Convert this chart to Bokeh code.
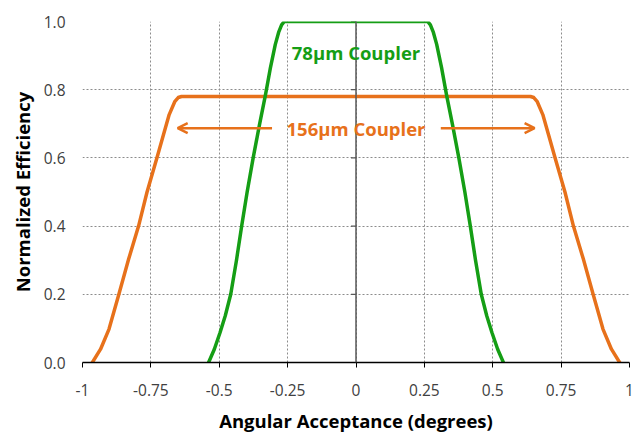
import numpy as np
from bokeh.plotting import figure
from bokeh.models import (Range1d, FixedTicker, Span, Arrow, OpenHead, Label)
from bokeh.embed import file_html
from bokeh.resources import INLINE

# ---- data ----
x_ticks = [-1, -0.75, -0.5, -0.25, 0, 0.25, 0.5, 0.75, 1]
x_tick_labels = ["-1", "-0.75", "-0.5", "-0.25", "0", "0.25", "0.5", "0.75", "1"]
y_ticks = [0.0, 0.2, 0.4, 0.6, 0.8, 1.0]
y_tick_labels = ["0.0", "0.2", "0.4", "0.6", "0.8", "1.0"]

# 78um coupler (green)
c78_x = [-0.539, -0.518, -0.497, -0.478, -0.458, -0.437, -0.418, -0.398, -0.376,
         -0.353, -0.331, -0.313, -0.295, -0.283, -0.272, -0.262,
         0.262, 0.272, 0.283, 0.295, 0.313, 0.331, 0.353,
         0.376, 0.398, 0.418, 0.437, 0.458, 0.478, 0.497, 0.518, 0.539]
c78_y = [0.0, 0.039, 0.088, 0.137, 0.2, 0.3, 0.4, 0.5, 0.6,
         0.697, 0.785, 0.864, 0.933, 0.968, 0.99, 1.0,
         1.0, 0.99, 0.968, 0.933, 0.864, 0.785, 0.697,
         0.6, 0.5, 0.4, 0.3, 0.2, 0.137, 0.088, 0.039, 0.0]

# 156um coupler (orange)
c156_x = [-0.964, -0.934, -0.903, -0.867, -0.831, -0.795, -0.764, -0.728, -0.704,
          -0.683, -0.662, -0.650, -0.638,
          0.638, 0.650, 0.662, 0.683, 0.704, 0.728, 0.764, 0.795, 0.831, 0.867,
          0.903, 0.934, 0.964]
c156_y = [0.0, 0.039, 0.098, 0.2, 0.304, 0.4, 0.5, 0.6, 0.668,
          0.727, 0.766, 0.777, 0.78,
          0.78, 0.777, 0.766, 0.727, 0.668, 0.6, 0.5, 0.4, 0.304, 0.2,
          0.098, 0.039, 0.0]

GREEN = "#159E15"
ORANGE = "#E7711B"
FONT = "Open Sans"

p = figure(width=636, height=435, output_backend="svg", toolbar_location=None,
           x_range=Range1d(-1, 1), y_range=Range1d(0, 1),
           min_border_left=82, min_border_right=7, min_border_top=21, min_border_bottom=72)
p.outline_line_color = None
p.background_fill_color = "white"
p.border_fill_color = "white"

# x axis
p.xaxis.ticker = FixedTicker(ticks=x_ticks)
p.xaxis.major_label_overrides = {t: l for t, l in zip(x_ticks, x_tick_labels)}
p.xaxis.axis_line_color = "black"
p.xaxis.axis_line_width = 1.5
p.xaxis.major_tick_line_color = "black"
p.xaxis.major_tick_in = 0
p.xaxis.major_tick_out = 5
p.xaxis.minor_tick_line_color = None
p.xaxis.major_label_standoff = 16
p.xaxis.major_label_text_font = FONT
p.xaxis.major_label_text_font_size = "15.5px"
p.xaxis.major_label_text_color = "#404040"
p.xaxis.axis_label = "Angular Acceptance (degrees)"
p.xaxis.axis_label_text_font = FONT
p.xaxis.axis_label_text_font_size = "18.5px"
p.xaxis.axis_label_text_font_style = "bold"
p.xaxis.axis_label_text_color = "black"
p.xaxis.axis_label_standoff = 9

# y axis (labels at the left, line drawn at x=0)
p.yaxis.ticker = FixedTicker(ticks=y_ticks)
p.yaxis.major_label_overrides = {t: l for t, l in zip(y_ticks, y_tick_labels)}
p.yaxis.axis_line_color = None
p.yaxis.major_tick_line_color = None
p.yaxis.major_tick_out = 0
p.yaxis.major_tick_in = 0
p.yaxis.minor_tick_line_color = None
p.yaxis.minor_tick_out = 0
p.yaxis.major_label_standoff = 17
p.yaxis.major_label_text_font = FONT
p.yaxis.major_label_text_font_size = "15.5px"
p.yaxis.major_label_text_color = "#404040"
p.yaxis.axis_label = "Normalized Efficiency"
p.yaxis.axis_label_text_font = FONT
p.yaxis.axis_label_text_font_size = "18.5px"
p.yaxis.axis_label_text_font_style = "bold"
p.yaxis.axis_label_text_color = "black"
p.yaxis.axis_label_standoff = 6

# grids
for g in (p.xgrid, p.ygrid):
    g.grid_line_color = "#8c8c8c"
    g.grid_line_dash = "2 2"
    g.grid_line_width = 1
p.xgrid.ticker = FixedTicker(ticks=x_ticks)
p.ygrid.ticker = FixedTicker(ticks=y_ticks)

# vertical axis line at x = 0 with ticks
p.add_layout(Span(location=0, dimension="height", line_color="#595959", line_width=1.5))
p.ray(x=[0] * (len(y_ticks) - 1), y=y_ticks[1:], length=5, length_units="screen",
      angle=np.pi, line_color="#595959", line_width=1.2)

# curves
p.line(c156_x, c156_y, line_color=ORANGE, line_width=3.5, line_cap="round", line_join="round")
p.line(c78_x, c78_y, line_color=GREEN, line_width=3.5, line_cap="round", line_join="round")

# annotations
p.add_layout(Label(x=0, y=0.909, text="78µm Coupler", text_align="center", text_baseline="middle",
                   text_font=FONT, text_font_size="18.5px", text_font_style="bold", text_color=GREEN))
p.add_layout(Label(x=0, y=0.687, text="156µm Coupler", text_align="center", text_baseline="middle",
                   text_font=FONT, text_font_size="18.5px", text_font_style="bold", text_color=ORANGE))
p.add_layout(Arrow(x_start=-0.307, y_start=0.687, x_end=-0.652, y_end=0.687,
                   line_color=ORANGE, line_width=2.5,
                   end=OpenHead(size=10, line_color=ORANGE, line_width=2.5)))
p.add_layout(Arrow(x_start=0.31, y_start=0.687, x_end=0.653, y_end=0.687,
                   line_color=ORANGE, line_width=2.5,
                   end=OpenHead(size=10, line_color=ORANGE, line_width=2.5)))

open("out.html", "w").write(file_html(p, INLINE))
